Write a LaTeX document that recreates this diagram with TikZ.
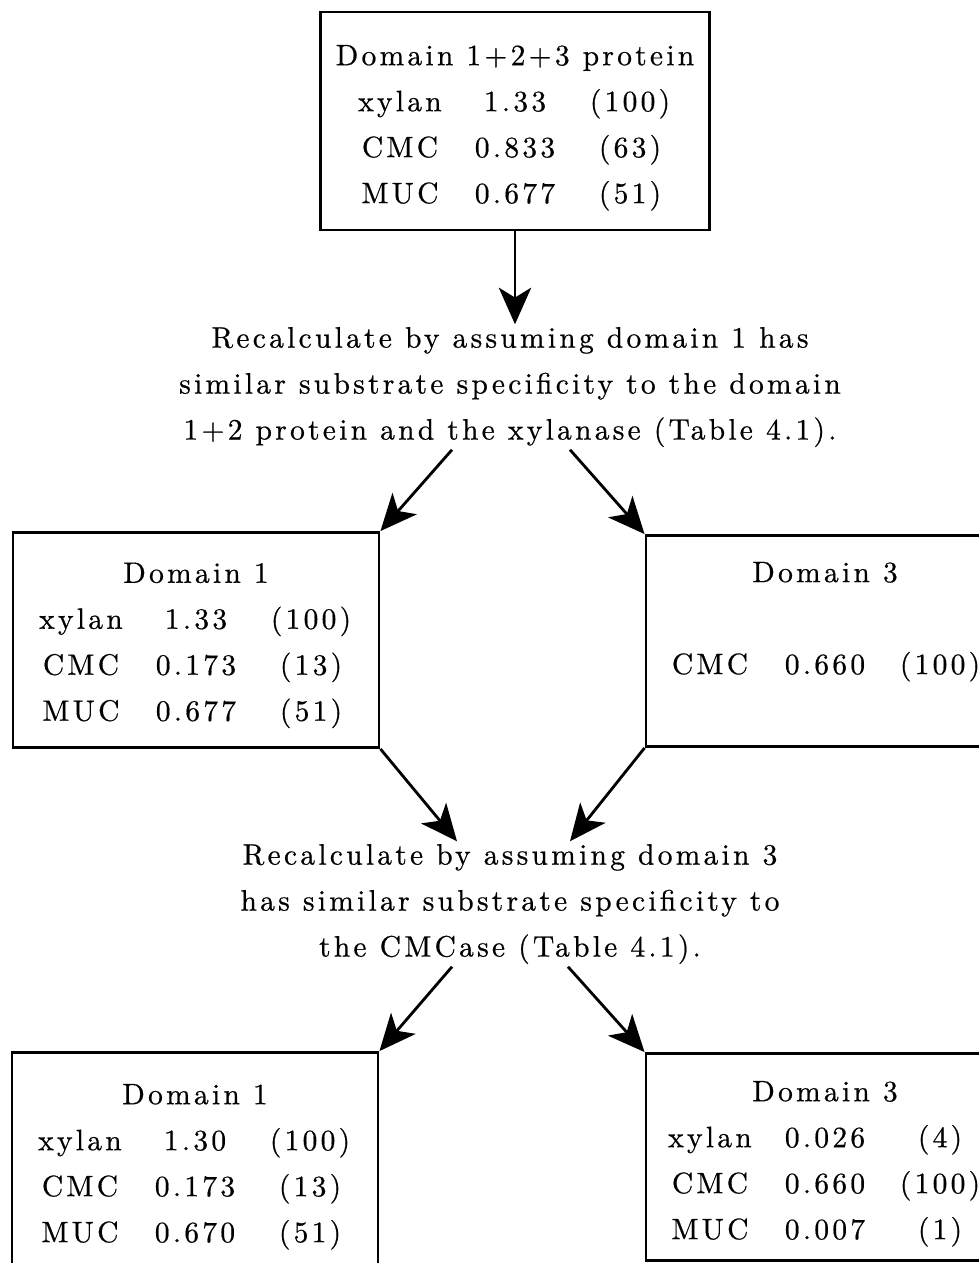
\documentclass[tikz,border=0pt]{standalone}
\usepackage{fontspec}
\usetikzlibrary{arrows.meta,calc}
\newfontfamily\tabfam{lmroman10-regular.otf}[LetterSpace=11,FakeBold=0.6]
\newcommand{\tabfont}{\tabfam\fontsize{21}{32.7}\selectfont}
\newcommand{\trow}[3]{\makebox[2.875cm]{#1}\makebox[2.875cm]{#2}\makebox[2.875cm]{#3}}
\tikzset{
	box/.style={draw,line width=2pt,inner sep=0pt,align=center,font=\tabfont},
	note/.style={inner sep=1pt,align=center,font=\tabfont},
}
\begin{document}
\begin{tikzpicture}[x=0.025cm,y=-0.025cm,>={Stealth[length=26pt,width=23pt,inset=7pt]},line width=2pt]
	  \useasboundingbox (0,0) rectangle (979,1263);
	  \clip (0,0) rectangle (979,1263);
	  \node[box,minimum width=9.73cm,minimum height=5.45cm] (prot) at (515,121)
	    {\rule{0pt}{24pt}Domain 1+2+3 protein\\ \trow{xylan}{1.33}{(100)}\\ \trow{CMC}{0.833}{(63)}\\ \trow{MUC}{0.677}{(51)}};
	  \node[note] (recalcA) at (510,387)
	    {Recalculate by assuming domain 1 has\\ similar substrate specificity to the domain\\ 1+2 protein and the xylanase (Table 4.1).};
	  \node[box,minimum width=9.15cm,minimum height=5.375cm] (d1a) at (196,640)
	    {\rule{0pt}{22pt}Domain 1\\ \trow{xylan}{1.33}{(100)}\\ \trow{CMC}{0.173}{(13)}\\ \trow{MUC}{0.677}{(51)}};
	  \node[box,minimum width=8.95cm,minimum height=5.275cm] (d3a) at (825,641)
	    {Domain 3\\ \mbox{}\\ \trow{CMC}{0.660}{(100)}\\ \mbox{}};
	  \node[note] (recalcB) at (510,904)
	    {Recalculate by assuming domain 3\\ has similar substrate specificity to\\ the CMCase (Table 4.1).};
	  \node[box,minimum width=9.15cm,minimum height=5.375cm] (d1b) at (195,1160)
	    {\rule{0pt}{24pt}Domain 1\\ \trow{xylan}{1.30}{(100)}\\ \trow{CMC}{0.173}{(13)}\\ \trow{MUC}{0.670}{(51)}};
	  \node[box,minimum width=8.95cm,minimum height=5.175cm] (d3b) at (825,1157)
	    {\rule{0pt}{24pt}Domain 3\\ \trow{xylan}{0.026}{(4)}\\ \trow{CMC}{0.660}{(100)}\\ \trow{MUC}{0.007}{(1)}};
	  \draw[->] (prot.south) -- (prot.south |- recalcA.north);
	  \draw[->] ($(recalcA.south)+(-58,0)$) -- (d1a.north east);
	  \draw[->] ($(recalcA.south)+(60,0)$) -- (d3a.north west);
	  \draw[->] (d1a.south east) -- ($(recalcB.north)+(-53,0)$);
	  \draw[->] (d3a.south west) -- ($(recalcB.north)+(60,0)$);
	  \draw[->] ($(recalcB.south)+(-58,0)$) -- (d1b.north east);
	  \draw[->] ($(recalcB.south)+(58,0)$) -- (d3b.north west);
	\end{tikzpicture}
\end{document}
